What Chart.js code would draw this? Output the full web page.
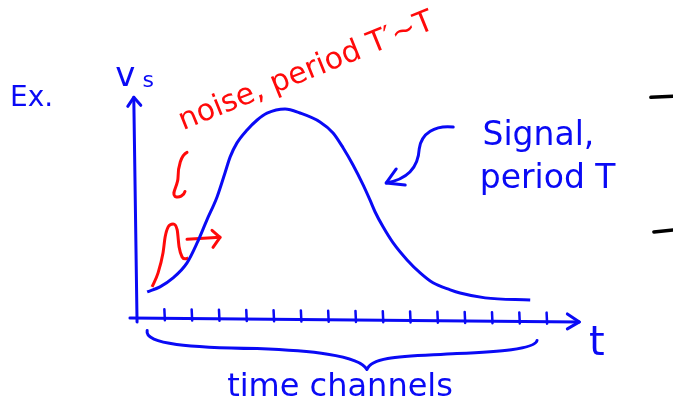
<!DOCTYPE html>
<html>
<head>
<meta charset="utf-8">
<script src="https://cdn.jsdelivr.net/npm/chart.js@4.4.0/dist/chart.umd.min.js"></script>
<style>
html, body { margin: 0; padding: 0; background: #ffffff; }
#wrap { width: 673px; height: 406px; }
</style>
</head>
<body>
<div id="wrap"><canvas id="sketch"></canvas></div>
<script>
// time in channel units, amplitude relative to the signal peak
var signalT = [0.37, 0.84, 1.32, 1.83, 2.20, 2.56, 2.93, 3.22, 3.41, 3.66, 4.03, 4.40, 4.76, 5.42, 5.97, 6.70, 7.18, 7.55, 7.91, 8.28, 8.53, 8.72, 9.01, 9.38, 9.89, 10.37, 10.84, 11.47, 11.83, 12.75, 14.40];
var signalV = [0.132, 0.156, 0.198, 0.269, 0.363, 0.472, 0.580, 0.693, 0.769, 0.835, 0.896, 0.943, 0.975, 0.995, 0.976, 0.934, 0.882, 0.811, 0.731, 0.637, 0.566, 0.509, 0.439, 0.363, 0.283, 0.222, 0.175, 0.142, 0.127, 0.104, 0.094];

var noiseT = [0.55, 0.77, 0.95, 1.03, 1.14, 1.32, 1.47, 1.54, 1.65, 1.76, 1.87];
var noiseV = [0.156, 0.222, 0.316, 0.392, 0.439, 0.453, 0.425, 0.344, 0.297, 0.288, 0.292];

var channelTicks = [1, 2, 3, 4, 5, 6, 7, 8, 9, 10, 11, 12, 13, 14, 15];

var BLUE = '#0a0af5';
var RED = '#ff0a0a';

function toPoints(xs, ys) {
    return xs.map(function (x, i) { return { x: x, y: ys[i] }; });
}

// hand drawn axes, arrows, brace and notes
var sketchPlugin = {
    id: 'sketch',
    beforeDatasetsDraw: function (chart) {
        var ctx = chart.ctx, xs = chart.scales.x, ys = chart.scales.y;
        function px(v) { return xs.getPixelForValue(v); }
        function py(v) { return ys.getPixelForValue(v); }
        function axisY(x) { return py(0.0094 - 0.0188 * (x + 0.26) / 16.46); }

        ctx.save();
        ctx.lineCap = 'round';
        ctx.lineJoin = 'round';
        ctx.strokeStyle = BLUE;
        ctx.lineWidth = 3;

        // y axis
        ctx.beginPath();
        ctx.moveTo(px(0), py(-0.01));
        ctx.lineTo(px(-0.12), py(1.05));
        ctx.stroke();
        var tx = px(-0.12), ty = py(1.05);
        ctx.beginPath();
        ctx.moveTo(tx - 6, ty + 9);
        ctx.lineTo(tx, ty);
        ctx.lineTo(tx + 7, ty + 8);
        ctx.stroke();

        // x axis
        ctx.beginPath();
        ctx.moveTo(px(-0.26), axisY(-0.26));
        ctx.lineTo(px(16.2), axisY(16.2));
        ctx.stroke();
        var ax = px(16.2), ay = axisY(16.2);
        ctx.beginPath();
        ctx.moveTo(ax - 12, ay - 8);
        ctx.lineTo(ax, ay);
        ctx.lineTo(ax - 12, ay + 7);
        ctx.stroke();

        // channel ticks
        ctx.lineWidth = 2.5;
        channelTicks.forEach(function (c) {
            var x = px(c), y = axisY(c);
            ctx.beginPath();
            ctx.moveTo(x, y - 9);
            ctx.lineTo(x + 0.5, y + 2);
            ctx.stroke();
        });

        // brace under the channels
        ctx.lineWidth = 3;
        var bl = px(0.37), bt = px(8.42), br = px(14.65);
        var by = py(-0.05);
        ctx.beginPath();
        ctx.moveTo(bl, by);
        ctx.bezierCurveTo(bl - 3, by + 14, bl + 45, by + 17, bl + 110, by + 18);
        ctx.bezierCurveTo(bt - 60, by + 20, bt - 8, by + 24, bt, by + 39);
        ctx.bezierCurveTo(bt + 5, by + 25, bt + 40, by + 26, bt + 90, by + 23);
        ctx.bezierCurveTo(br - 40, by + 21, br - 2, by + 19, br, by + 10);
        ctx.stroke();

        // arrow to the signal
        var sx = px(11.58), sy = py(0.91);
        ctx.beginPath();
        ctx.moveTo(sx, sy);
        ctx.bezierCurveTo(sx - 18, sy - 2, sx - 32, sy + 6, sx - 34, sy + 22);
        ctx.bezierCurveTo(sx - 35, sy + 40, sx - 45, sy + 52, sx - 67, sy + 56);
        ctx.stroke();
        ctx.beginPath();
        ctx.moveTo(sx - 57, sy + 42);
        ctx.lineTo(sx - 67, sy + 56);
        ctx.lineTo(sx - 48, sy + 58);
        ctx.stroke();

        // red arrows
        ctx.strokeStyle = RED;
        var rx = px(1.83), ry = py(0.38);
        ctx.beginPath();
        ctx.moveTo(rx, ry);
        ctx.lineTo(rx + 33, ry - 2);
        ctx.stroke();
        ctx.beginPath();
        ctx.moveTo(rx + 25, ry - 9);
        ctx.lineTo(rx + 33, ry - 2);
        ctx.lineTo(rx + 26, ry + 8);
        ctx.stroke();

        var qx = px(1.83), qy = py(0.79);
        ctx.beginPath();
        ctx.moveTo(qx, qy);
        ctx.bezierCurveTo(qx - 6, qy + 3, qx - 9, qy + 14, qx - 9, qy + 25);
        ctx.bezierCurveTo(qx - 9, qy + 33, qx - 16, qy + 41, qx - 12, qy + 44);
        ctx.bezierCurveTo(qx - 8, qy + 46, qx - 3, qy + 43, qx - 2, qy + 39);
        ctx.stroke();

        // marks at the right edge
        ctx.strokeStyle = '#000000';
        ctx.lineWidth = 3.5;
        ctx.beginPath();
        ctx.moveTo(px(18.82), py(1.05));
        ctx.lineTo(px(19.7), py(1.055));
        ctx.moveTo(px(18.93), py(0.415));
        ctx.lineTo(px(19.7), py(0.425));
        ctx.stroke();
        ctx.restore();
    },
    afterDatasetsDraw: function (chart) {
        var ctx = chart.ctx, xs = chart.scales.x, ys = chart.scales.y;
        function px(v) { return xs.getPixelForValue(v); }
        function py(v) { return ys.getPixelForValue(v); }

        ctx.save();
        ctx.textBaseline = 'alphabetic';
        ctx.fillStyle = BLUE;

        ctx.font = '28px "DejaVu Sans"';
        ctx.fillText('Ex.', px(-4.65), py(1.01));

        ctx.font = '34px "DejaVu Sans"';
        ctx.fillText('v', px(-0.8), py(1.105));
        ctx.font = '22px "DejaVu Sans"';
        ctx.fillText('s', px(0.2), py(1.10));

        ctx.font = '33px "DejaVu Sans"';
        ctx.fillText('Signal,', px(12.65), py(0.825));
        ctx.fillText('period T', px(12.55), py(0.62));

        ctx.font = '32px "DejaVu Sans"';
        ctx.fillText('time channels', px(3.3), py(-0.36));

        ctx.font = '40px "DejaVu Sans"';
        ctx.fillText('t', px(16.55), py(-0.165));

        ctx.fillStyle = RED;
        ctx.font = '30px "DejaVu Sans"';
        ctx.translate(px(1.68), py(0.895));
        ctx.rotate(-22 * Math.PI / 180);
        ctx.fillText('noise, period T\u2032~T', 0, 0);
        ctx.restore();
    }
};

document.addEventListener('DOMContentLoaded', function () {
    var ctx = document.getElementById('sketch').getContext('2d');

    var chart = new Chart(ctx, {
        type: 'line',
        data: {
            datasets: [{
                label: 'Signal, period T',
                data: toPoints(signalT, signalV),
                borderColor: BLUE,
                borderWidth: 3,
                cubicInterpolationMode: 'monotone',
                pointRadius: 0,
                fill: false
            }, {
                label: "noise, period T'~T",
                data: toPoints(noiseT, noiseV),
                borderColor: RED,
                borderWidth: 3,
                cubicInterpolationMode: 'monotone',
                pointRadius: 0,
                fill: false
            }]
        },
        options: {
            responsive: true,
            maintainAspectRatio: false,
            animation: false,
            layout: { padding: 0 },
            scales: {
                x: { type: 'linear', min: -5.02, max: 19.63, display: false },
                y: { type: 'linear', min: -0.406, max: 1.509, display: false }
            },
            plugins: {
                legend: { display: false },
                tooltip: { enabled: false }
            }
        },
        plugins: [sketchPlugin]
    });
});
</script>
</body>
</html>
